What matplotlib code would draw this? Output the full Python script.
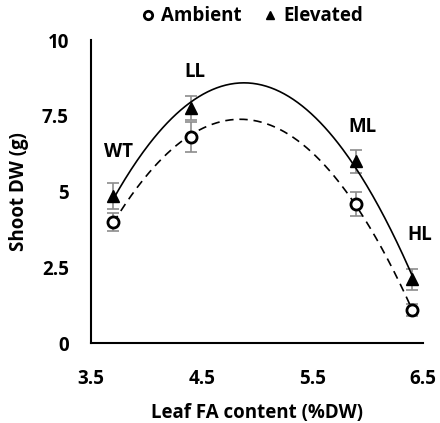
import numpy as np
import matplotlib
matplotlib.use("Agg")
import matplotlib.pyplot as plt

plt.rcParams['font.family'] = ['Open Sans', 'DejaVu Sans']

genotypes = ["WT", "LL", "ML", "HL"]
leaf_fa = [3.7, 4.4, 5.9, 6.4]
ambient = [4.0, 6.8, 4.6, 1.08]
ambient_err = [0.3, 0.5, 0.4, 0.2]
elevated = [4.85, 7.75, 6.0, 2.1]
elevated_err = [0.42, 0.4, 0.38, 0.35]
xticks = [3.5, 4.5, 5.5, 6.5]
xticklabels = ["3.5", "4.5", "5.5", "6.5"]
yticks = [0, 2.5, 5, 7.5, 10]
yticklabels = ["0", "2.5", "5", "7.5", "10"]
label_offsets_x = [0.05, 0.04, 0.05, 0.07]
label_offsets_y = [1.45, 1.2, 1.13, 1.46]

FS = 13.5

fig = plt.figure(figsize=(4.40, 4.23), dpi=100)
ax = fig.add_axes([0.207, 0.189, 0.754, 0.716])

x = np.array(leaf_fa)
xs = np.linspace(min(x), max(x), 200)
pa = np.polyfit(x, ambient, 2)
pe = np.polyfit(x, elevated, 2)
ax.plot(xs, np.polyval(pe, xs), color='black', lw=1.2, zorder=2)
ax.plot(xs, np.polyval(pa, xs), color='black', lw=1.2, ls=(0, (5, 3.5)), zorder=2)

ax.errorbar(x, ambient, yerr=ambient_err, fmt='none', ecolor='#8c8c8c',
            elinewidth=1.2, capsize=4, capthick=1.2, zorder=1)
ax.errorbar(x, elevated, yerr=elevated_err, fmt='none', ecolor='#8c8c8c',
            elinewidth=1.2, capsize=4, capthick=1.2, zorder=1)
ax.plot(x, ambient, 'o', ms=8, mfc='white', mec='black', mew=2, ls='none',
        label='Ambient', zorder=3)
ax.plot(x, elevated, '^', ms=8.5, mfc='black', mec='black', ls='none',
        label='Elevated', zorder=3)

for g, xi, yi, ox, oy in zip(genotypes, leaf_fa, elevated, label_offsets_x, label_offsets_y):
    ax.text(xi + ox, yi + oy, g, fontsize=FS, fontweight='bold',
            ha='center', va='center')

ax.set_xlim(3.5, 6.5)
ax.set_ylim(0, 10)
ax.set_xticks(xticks)
ax.set_xticklabels(xticklabels)
ax.set_yticks(yticks)
ax.set_yticklabels(yticklabels)
ax.tick_params(axis='both', length=0, labelsize=FS)
ax.tick_params(axis='x', pad=19)
ax.tick_params(axis='y', pad=16)
for lab in ax.get_xticklabels() + ax.get_yticklabels():
    lab.set_fontweight('bold')
for s in ['top', 'right']:
    ax.spines[s].set_visible(False)
for s in ['left', 'bottom']:
    ax.spines[s].set_linewidth(1.5)

ax.set_xlabel('Leaf FA content (%DW)', fontsize=FS, fontweight='bold', labelpad=10)
ax.set_ylabel('Shoot DW (g)', fontsize=FS, fontweight='bold', labelpad=9)

leg = fig.legend(loc='upper center', bbox_to_anchor=(0.57, 1.025), ncol=2,
                 frameon=False, prop={'weight': 'bold', 'size': FS},
                 handletextpad=0.2, columnspacing=1.0, handlelength=1.0,
                 markerscale=0.75)

fig.savefig('out.png', dpi=100)
